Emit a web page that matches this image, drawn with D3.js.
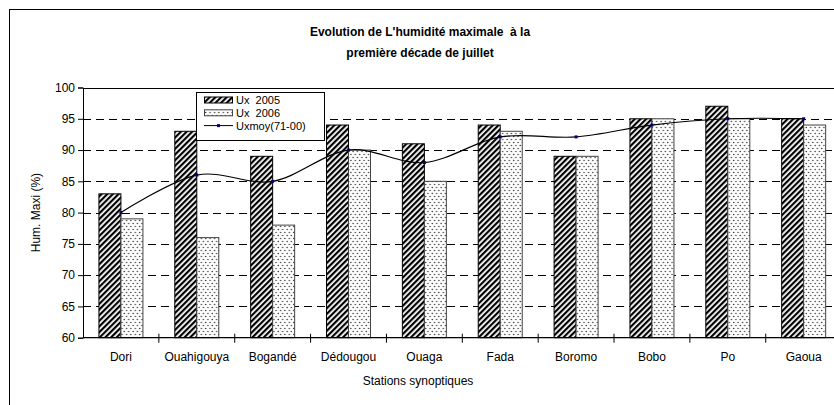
<!DOCTYPE html>
<html lang="fr">
<head>
<meta charset="UTF-8">
<title>Evolution de l'humidité maximale</title>
<script src="https://d3js.org/d3.v7.min.js"></script>
<style>
 body { margin: 0; background: #fff; }
 svg { display: block; font-family: "Liberation Sans", Arial, sans-serif; }
 .grid line { stroke: #000; stroke-dasharray: 8,5; }
 .axis path, .axis line { stroke: #000; }
 .axis text { font-size: 12px; fill: #000; }
</style>
</head>
<body>
<div id="chart"></div>
<script>
// data
const stations = ["Dori", "Ouahigouya", "Bogandé", "Dédougou", "Ouaga", "Fada", "Boromo", "Bobo", "Po", "Gaoua"];
const ux2005 = [83, 93, 89, 94, 91, 94, 89, 95, 97, 95];
const ux2006 = [79, 76, 78, 90, 85, 93, 89, 95, 95, 94];
const uxMoy = [80, 86, 85, 90, 88, 92.1, 92.1, 94, 95, 95];
const yTicks = [60, 65, 70, 75, 80, 85, 90, 95, 100];
const seriesNames = ["Ux  2005", "Ux  2006", "Uxmoy(71-00)"];

const width = 834, height = 405;
const plotLeft = 83, plotTop = 87.5, plotBottom = 337.7, plotRight = 83 + 10 * 75.86;

const svg = d3.select('#chart').append('svg')
  .attr('width', width)
  .attr('height', height);

// patterns
const defs = svg.append('defs');
const hatch = defs.append('pattern')
  .attr('id', 'hatch')
  .attr('patternUnits', 'userSpaceOnUse')
  .attr('width', 4).attr('height', 4)
  .attr('patternTransform', 'rotate(45)');
hatch.append('rect').attr('width', 4).attr('height', 4).attr('fill', '#fff');
hatch.append('rect').attr('width', 2.2).attr('height', 4).attr('fill', '#000');

const dots = defs.append('pattern')
  .attr('id', 'dots')
  .attr('patternUnits', 'userSpaceOnUse')
  .attr('width', 4.4).attr('height', 6);
dots.append('rect').attr('width', 4.4).attr('height', 6).attr('fill', '#fff');
dots.append('circle').attr('cx', 1.1).attr('cy', 1.5).attr('r', 0.8).attr('fill', '#444');
dots.append('circle').attr('cx', 3.3).attr('cy', 4.5).attr('r', 0.8).attr('fill', '#444');

// chart border
svg.append('rect')
  .attr('x', 9.5).attr('y', 9.5)
  .attr('width', 860).attr('height', 420)
  .attr('fill', 'none').attr('stroke', '#000');

// title
const title = svg.append('text')
  .attr('text-anchor', 'middle')
  .style('font-size', '12px').style('font-weight', 'bold')
  .style('white-space', 'pre');
title.append('tspan').attr('x', 420).attr('y', 36).text("Evolution de L'humidité maximale  à la");
title.append('tspan').attr('x', 420).attr('y', 57).text("première décade de juillet");

const x = d3.scaleBand().domain(stations).range([plotLeft, plotRight]);
const xSub = d3.scaleBand().domain([0, 1]).range([0, x.bandwidth()]).paddingOuter(0.724);
const y = d3.scaleLinear().domain([60, 100]).range([plotBottom, plotTop]);

// gridlines
svg.append('g').attr('class', 'grid')
  .selectAll('line')
  .data(yTicks.filter(d => d > 60 && d < 100))
  .enter().append('line')
  .attr('x1', plotLeft).attr('x2', plotRight)
  .attr('y1', d => Math.round(y(d)) + 0.5)
  .attr('y2', d => Math.round(y(d)) + 0.5);

svg.append('line')
  .attr('x1', plotLeft).attr('x2', plotRight)
  .attr('y1', Math.round(y(100)) + 0.5).attr('y2', Math.round(y(100)) + 0.5)
  .attr('stroke', '#000');

// bars
const groups = [
  { values: ux2005, fill: 'url(#hatch)', stroke: '#000' },
  { values: ux2006, fill: 'url(#dots)', stroke: '#444' }
];
groups.forEach((s, i) => {
  svg.append('g').selectAll('rect')
    .data(s.values)
    .enter().append('rect')
    .attr('x', (d, j) => x(stations[j]) + xSub(i))
    .attr('y', d => y(d))
    .attr('width', xSub.bandwidth())
    .attr('height', d => y(60) - y(d))
    .attr('fill', s.fill)
    .attr('stroke', s.stroke)
    .attr('stroke-width', 1);
});

// smoothed mean line
const cx = (d, j) => x(stations[j]) + x.bandwidth() / 2;
const line = d3.line()
  .x(cx)
  .y(d => y(d))
  .curve(d3.curveCardinal.tension(0));
svg.append('path')
  .datum(uxMoy)
  .attr('d', line)
  .attr('fill', 'none')
  .attr('stroke', '#000')
  .attr('stroke-width', 1.2);
svg.append('g').selectAll('rect')
  .data(uxMoy)
  .enter().append('rect')
  .attr('x', (d, j) => cx(d, j) - 1.5)
  .attr('y', d => y(d) - 1.5)
  .attr('width', 3).attr('height', 3)
  .attr('fill', '#000080');

// axes
svg.append('g').attr('class', 'axis')
  .attr('transform', `translate(${plotLeft},0)`)
  .call(d3.axisLeft(y).tickValues(yTicks).tickSize(5).tickPadding(3));

const xAxis = svg.append('g').attr('class', 'axis')
  .attr('transform', `translate(0,${plotBottom})`)
  .call(d3.axisBottom(x).tickSize(0).tickPadding(15));
xAxis.select('.domain').remove();
xAxis.append('line')
  .attr('x1', plotLeft).attr('x2', plotRight)
  .attr('stroke', '#000').attr('stroke-width', 1.2);
xAxis.selectAll('.sep')
  .data(stations.slice(1))
  .enter().append('line')
  .attr('x1', d => x(d)).attr('x2', d => x(d))
  .attr('y1', -4).attr('y2', 5)
  .attr('stroke', '#000');

// axis titles
svg.append('text')
  .attr('transform', `translate(40,${(plotTop + plotBottom) / 2}) rotate(-90)`)
  .attr('text-anchor', 'middle')
  .style('font-size', '12px')
  .text('Hum. Maxi (%)');
svg.append('text')
  .attr('x', 418).attr('y', 385)
  .attr('text-anchor', 'middle')
  .style('font-size', '12px')
  .text('Stations synoptiques');

// legend
const legend = svg.append('g');
legend.append('rect')
  .attr('x', 196.5).attr('y', 92.5)
  .attr('width', 128).attr('height', 48)
  .attr('fill', '#fff').attr('stroke', '#000');
const swatchFills = ['url(#hatch)', 'url(#dots)'];
seriesNames.forEach((name, i) => {
  const ty = 104 + i * 12.8;
  if (i < 2) {
    legend.append('rect')
      .attr('x', 204.5).attr('y', ty - 7)
      .attr('width', 28).attr('height', 6)
      .attr('fill', swatchFills[i])
      .attr('stroke', i === 0 ? '#000' : '#444');
  } else {
    legend.append('line')
      .attr('x1', 204).attr('x2', 233)
      .attr('y1', ty - 4).attr('y2', ty - 4)
      .attr('stroke', '#000');
    legend.append('rect')
      .attr('x', 217).attr('y', ty - 5.5)
      .attr('width', 3).attr('height', 3)
      .attr('fill', '#000080');
  }
  legend.append('text')
    .attr('x', 236).attr('y', ty)
    .style('font-size', '11px')
    .style('white-space', 'pre')
    .text(name);
});
</script>
</body>
</html>
